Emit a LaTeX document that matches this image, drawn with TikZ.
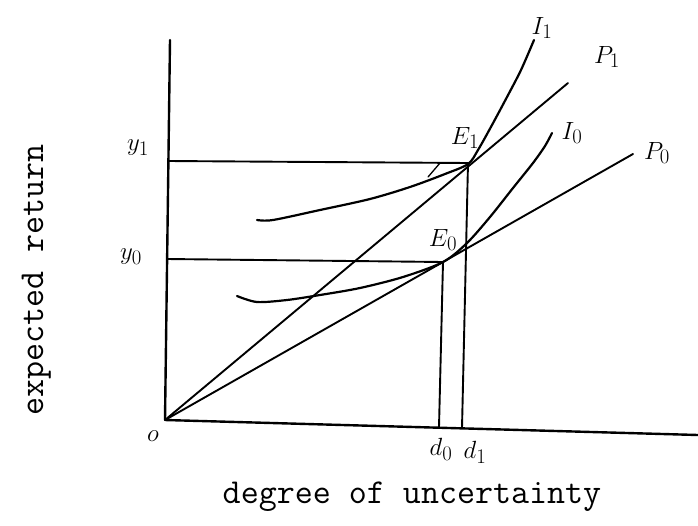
\documentclass[tikz,border=0pt]{standalone}
\begin{document}
\begin{tikzpicture}[x=1pt,y=-1pt,line cap=round,line join=round,
  ln/.style={line width=1.9pt},
  ax/.style={line width=2.4pt},
  crv/.style={line width=2.2pt},
  lab/.style={font=\fontsize{30}{34}\selectfont,inner sep=0pt},
  ttl/.style={font=\fontsize{35}{38}\selectfont\ttfamily,inner sep=0pt}]
\useasboundingbox (0,0) rectangle (698,525);
% key points
\coordinate (O) at (165,420);
\coordinate (ytop) at (170,40);
\coordinate (xend) at (698,435);
\coordinate (E1) at (468,163);
\coordinate (E0) at (443,262);
\coordinate (Y1) at (168,161);
\coordinate (Y0) at (167,259);
\coordinate (D1) at (462,428);
\coordinate (D0) at (439,427);
\coordinate (P1end) at (568,83);
\coordinate (P0end) at (633,154);
\coordinate (s1) at (428,177);
\coordinate (s2) at (440,163);
% axes
\draw[ax] (ytop) -- (O) -- (xend);
% guide lines
\draw[ln] (Y1) -- (E1) -- (D1);
\draw[ln] (Y0) -- (E0) -- (D0);
% budget lines
\draw[ln] (O) -- (P1end);
\draw[ln] (O) -- (P0end);
% indifference curves
\draw[crv] plot[smooth] coordinates {(257,220) (273,220) (320,210) (370,199) (410,187) (445,174) (468,164) (478,150) (492,125) (507,97) (521,70) (534,40)};
\draw[crv] plot[smooth] coordinates {(237,296) (257,302) (287,300) (320,295) (360,288) (403,277) (443,262) (467,243) (490,217) (513,188) (533,163) (545,146) (552,133)};
\draw[line width=1.3pt] (s1) -- (s2);
% labels
\node[lab] (ly1) at (138,148) {$y_1$};
\node[lab] (ly0) at (131,257) {$y_0$};
\node[lab] (lE1) at (465,138) {$E_1$};
\node[lab] (lE0) at (443,240) {$E_0$};
\node[lab] (lI1) at (542,28) {$I_1$};
\node[lab] (lI0) at (572,133) {$I_0$};
\node[lab] (lP1) at (607,57) {$P_1$};
\node[lab] (lP0) at (657,153) {$P_0$};
\node[lab] (ld0) at (441,449) {$d_0$};
\node[lab] (ld1) at (475,452) {$d_1$};
\node[lab] (lo) at (153,436) {$o$};
% axis titles
\node[ttl,anchor=base] (xt) at (412,503) {degree of uncertainty};
\node[ttl,anchor=base,rotate=90] (yt) at (43,280) {expected return};
\end{tikzpicture}
\end{document}
